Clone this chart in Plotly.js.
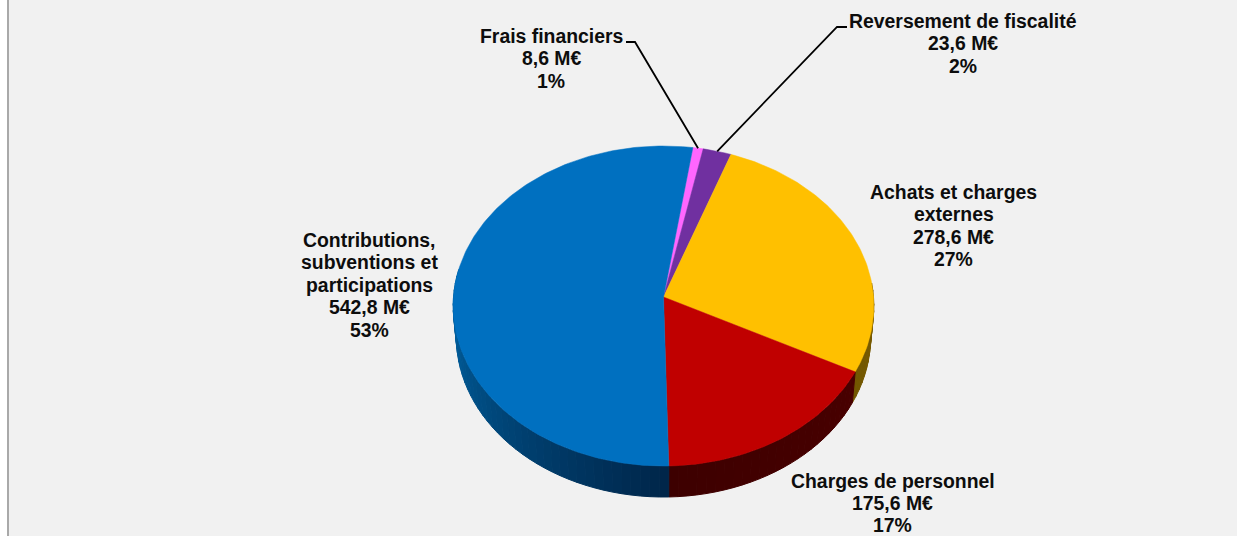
<!DOCTYPE html>
<html><head><meta charset="utf-8">
<script src="https://cdn.plot.ly/plotly-3.0.1.min.js"></script>
<style>html,body{margin:0;padding:0;background:#fff}#c{width:1237px;height:536px}</style>
</head><body><div id="c"></div>
<script>
// Data
const categories = ["Frais financiers","Reversement de fiscalité","Achats et charges externes","Charges de personnel","Contributions, subventions et participations"];
const values = [8.6,23.6,278.6,175.6,542.8];
const percents = [1,2,27,17,53];
const labelLines = [["Frais financiers"],["Reversement de fiscalité"],["Achats et charges","externes"],["Charges de personnel"],["Contributions,","subventions et","participations"]];
const colors = ["#FF66FF","#7030A0","#FFC000","#C00000","#0070C0"];
const wallFrom = ["#992e99","#431d60","#7a5c00","#4d0000","#00609f"];
const wallTo = ["#992e99","#431d60","#5e4700","#3d0000","#00264a"];

// Layout of the projected disc
const W=1237,H=536, apex={x:663.5,y:297}, RX=210, RY=159.5, P=0.05625, START=8.5, DEPTH=31, BOTTOM_SCALE=0.985;
const labelX=[551,963,953.5,892.5,369], labelTop=[36,21,192,480.5,240], LINE=22.4;
const leaders={0:[[626,42],[635,42]],1:[[847,27],[837,27]]};

const total=values.reduce((a,b)=>a+b,0);
const rad=d=>d*Math.PI/180;
function proj(deg){const u=Math.sin(rad(deg)),v=Math.cos(rad(deg));const k=1+P*v;
  return [apex.x+RX*u/k, apex.y-RY*v/k];}
function projLow(deg){const [x,y]=proj(deg);return [apex.x+(x-apex.x)*BOTTOM_SCALE,y+DEPTH];}
function arc(a,b,f){const n=Math.max(2,Math.ceil(Math.abs(b-a)));const o=[];for(let i=0;i<=n;i++)o.push(f(a+(b-a)*i/n));return o;}
function poly(pts,fill,lw){return {type:"scatter",mode:"lines",x:pts.map(p=>p[0]),y:pts.map(p=>p[1]),fill:"toself",fillcolor:fill,
  line:{width:lw,color:fill},hoverinfo:"skip",showlegend:false};}
function hex(c){return [1,3,5].map(i=>parseInt(c.substr(i,2),16));}
function mix(a,b,t){const A=hex(a),B=hex(b);return "rgb("+A.map((v,i)=>Math.round(v+(B[i]-v)*t)).join(",")+")";}

const traces=[];
let ang=START; const slices=[];
values.forEach((v,i)=>{const sweep=v/total*360;slices.push({a:ang,b:ang+sweep,i});ang+=sweep;});

// Side walls: fine strips, darkest at the front of the disc
const STRIP=2.5;
slices.forEach(s=>{
  const from=Math.max(s.a,85),to=Math.min(s.b,280);
  if(to<=from) return;
  const n=Math.max(1,Math.ceil((to-from)/STRIP));
  for(let k=0;k<n;k++){
    const a=from+(to-from)*k/n,b=from+(to-from)*(k+1)/n;
    const t=Math.max(0,1-Math.abs((a+b)/2-180)/90);
    const pts=arc(a,b,d=>proj(d)).concat(arc(b,a,projLow));pts.push(pts[0]);
    traces.push(poly(pts,mix(wallFrom[s.i],wallTo[s.i],t),1));
  }
});
// Top faces
slices.forEach(s=>{
  const pts=[[apex.x,apex.y]].concat(arc(s.a,s.b,d=>proj(d)));pts.push(pts[0]);
  traces.push(poly(pts,colors[s.i],0.5));
});
// Leader lines
Object.keys(leaders).forEach(k=>{
  const s=slices[k],end=proj((s.a+s.b)/2);
  const pts=leaders[k].concat([end]);
  traces.push({type:"scatter",mode:"lines",x:pts.map(p=>p[0]),y:pts.map(p=>p[1]),line:{color:"#000",width:1.8},hoverinfo:"skip",showlegend:false});
});

const fmt=v=>v.toFixed(1).replace(".",",");
const annotations=[];
values.forEach((v,i)=>{
  labelLines[i].concat([fmt(v)+" M€",percents[i]+"%"]).forEach((t,j)=>{
    annotations.push({xref:"x",yref:"y",x:labelX[i],y:labelTop[i]+j*LINE,xanchor:"center",yanchor:"middle",align:"center",showarrow:false,
      text:"<b>"+t+"</b>",font:{family:"Liberation Sans, Arial, sans-serif",size:19.4,color:"#0d0d0d"}});
  });
});

const layout={width:W,height:H,margin:{l:0,r:0,t:0,b:0},paper_bgcolor:"#ffffff",plot_bgcolor:"#ffffff",showlegend:false,
  xaxis:{range:[0,W],visible:false,fixedrange:true},yaxis:{range:[H,0],visible:false,fixedrange:true},
  annotations,
  shapes:[
   {type:"rect",layer:"below",xref:"x",yref:"y",x0:9,x1:W,y0:0,y1:H,fillcolor:"#f1f1f1",line:{width:0}},
   {type:"rect",layer:"below",xref:"x",yref:"y",x0:7,x1:9,y0:0,y1:H,fillcolor:"#a9a9a9",line:{width:0}}
  ]};
Plotly.newPlot("c",traces,layout,{displayModeBar:false,staticPlot:true});
</script></body></html>
